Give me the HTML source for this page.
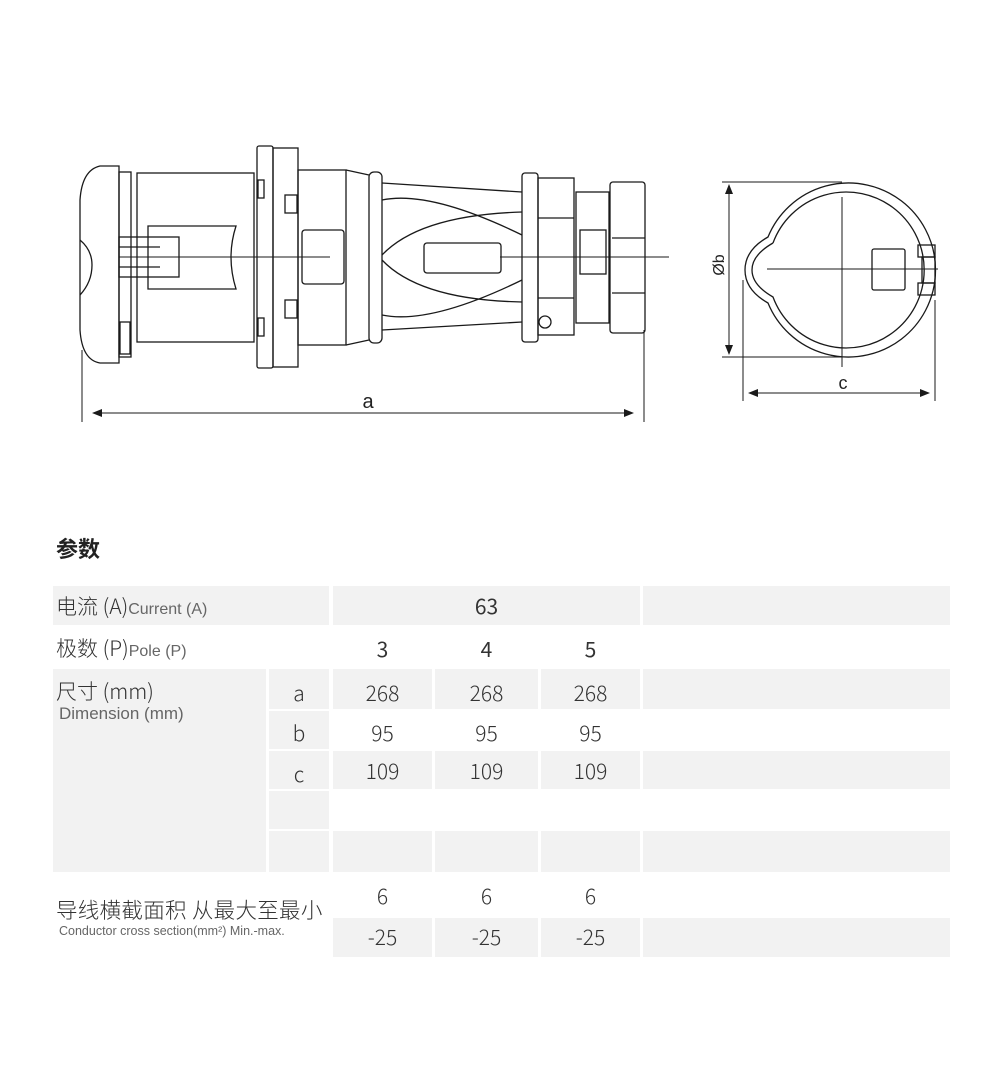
<!DOCTYPE html>
<html><head><meta charset="utf-8"><style>
body{margin:0;width:1001px;height:1081px;background:#fff;position:relative;overflow:hidden;font-family:"Liberation Sans","Noto Sans CJK SC",sans-serif;color:#333}
.g{position:absolute;background:#f2f2f2}
.t{position:absolute;white-space:nowrap;font-family:"Noto Sans CJK SC","Liberation Sans",sans-serif;font-weight:300}
.n{position:absolute;font-size:21px;text-align:center;font-family:"Noto Sans CJK SC",sans-serif;font-weight:300;color:#333}
.e{font-family:"Liberation Sans",sans-serif;font-size:16px;color:#666}
</style></head><body>
<svg width="1001" height="480" style="position:absolute;left:0;top:0" fill="none" stroke="#1a1a1a" stroke-width="1.3">
<path d="M119,166 L100,166 Q82,170 80,200 L80,330 Q82,360 100,363 L119,363 Z"/>
<path d="M80,240 Q92,250 92,265 Q92,282 80,295"/>
<rect x="119" y="172" width="12" height="185"/>
<rect x="120" y="322" width="10" height="32"/>
<rect x="137" y="173" width="117" height="169"/>
<path d="M148,226 L236,226 Q226,257 236,289 L148,289 Z"/>
<rect x="119" y="237" width="60" height="40"/>
<line x1="119" y1="247" x2="160" y2="247"/><line x1="119" y1="267" x2="160" y2="267"/>
<rect x="257" y="146" width="16" height="222" rx="2"/>
<rect x="273" y="148" width="25" height="219"/>
<rect x="258" y="180" width="6" height="18"/><rect x="258" y="318" width="6" height="18"/>
<rect x="285" y="195" width="12" height="18"/><rect x="285" y="300" width="12" height="18"/>
<rect x="298" y="170" width="48" height="175"/>
<rect x="302" y="230" width="42" height="54" rx="3"/>
<path d="M346,170 L369,175 M346,345 L369,340"/>
<rect x="369" y="172" width="13" height="171" rx="5"/>
<path d="M382,183 L522,192 M382,330 L522,322"/>
<path d="M382,200 Q430,190 522,235 M382,255 Q420,215 522,212 M382,260 Q420,300 522,302 M382,315 Q430,325 522,280"/>
<rect x="424" y="243" width="77" height="30" rx="3"/>
<rect x="522" y="173" width="16" height="169" rx="3"/>
<rect x="538" y="178" width="36" height="157"/>
<line x1="538" y1="218" x2="574" y2="218"/><line x1="538" y1="298" x2="574" y2="298"/>
<circle cx="545" cy="322" r="6"/>
<rect x="576" y="192" width="33" height="131"/>
<rect x="580" y="230" width="26" height="44"/>
<rect x="610" y="182" width="35" height="151" rx="3"/>
<line x1="612" y1="238" x2="645" y2="238"/><line x1="612" y1="293" x2="645" y2="293"/>
<line x1="119" y1="257" x2="330" y2="257" stroke-width="1"/>
<line x1="500" y1="257" x2="669" y2="257" stroke-width="1"/>
<g stroke-width="1"><line x1="82" y1="350" x2="82" y2="422"/><line x1="644" y1="330" x2="644" y2="422"/>
<line x1="95" y1="413" x2="631" y2="413"/></g>
<path d="M92,413 L102,409 L102,417 Z M634,413 L624,409 L624,417 Z" fill="#1a1a1a" stroke="none"/>
<text x="368" y="408" font-family="Liberation Sans" font-size="20" fill="#222" stroke="none" text-anchor="middle">a</text>
<path d="M768,237 A87,87 0 1 1 768,303 Q745,290 745,270 Q745,250 768,237 Z"/>
<path d="M773,243 A78,78 0 1 1 773,297 Q752,285 752,270 Q752,255 773,243"/>
<rect x="872" y="249" width="33" height="41" rx="2"/>
<rect x="918" y="245" width="17" height="12"/><rect x="918" y="283" width="17" height="12"/>
<rect x="922" y="257" width="13" height="26"/>
<g stroke-width="1">
<line x1="767" y1="269" x2="938" y2="269"/><line x1="842" y1="197" x2="842" y2="367"/>
<line x1="722" y1="182" x2="842" y2="182"/><line x1="722" y1="357" x2="842" y2="357"/>
<line x1="729" y1="190" x2="729" y2="349"/>
<line x1="743" y1="280" x2="743" y2="401"/><line x1="935" y1="300" x2="935" y2="401"/>
<line x1="756" y1="393" x2="922" y2="393"/></g>
<path d="M729,184 L725,194 L733,194 Z M729,355 L725,345 L733,345 Z M748,393 L758,389 L758,397 Z M930,393 L920,389 L920,397 Z" fill="#1a1a1a" stroke="none"/>
<text x="843" y="389" font-family="Liberation Sans" font-size="18" fill="#222" stroke="none" text-anchor="middle">c</text>
<text transform="translate(724,265) rotate(-90)" font-family="Liberation Sans" font-size="16" fill="#222" stroke="none" text-anchor="middle">Øb</text>
</svg>

<div class="t" style="left:56px;top:532px;font-size:22px;font-weight:700;color:#222">参数</div>

<div class="g" style="left:53px;top:586px;width:276px;height:39px"></div>
<div class="g" style="left:333px;top:586px;width:307px;height:39px"></div>
<div class="g" style="left:643px;top:586px;width:307px;height:39px"></div>

<div class="g" style="left:53px;top:669px;width:213px;height:203px"></div>
<div class="g" style="left:269px;top:669px;width:60px;height:40px"></div>
<div class="g" style="left:269px;top:711px;width:60px;height:38px"></div>
<div class="g" style="left:269px;top:751px;width:60px;height:38px"></div>
<div class="g" style="left:269px;top:791px;width:60px;height:38px"></div>
<div class="g" style="left:269px;top:831px;width:60px;height:41px"></div>

<div class="g" style="left:333px;top:669px;width:99px;height:40px"></div>
<div class="g" style="left:435px;top:669px;width:103px;height:40px"></div>
<div class="g" style="left:541px;top:669px;width:99px;height:40px"></div>
<div class="g" style="left:643px;top:669px;width:307px;height:40px"></div>

<div class="g" style="left:333px;top:751px;width:99px;height:38px"></div>
<div class="g" style="left:435px;top:751px;width:103px;height:38px"></div>
<div class="g" style="left:541px;top:751px;width:99px;height:38px"></div>
<div class="g" style="left:643px;top:751px;width:307px;height:38px"></div>

<div class="g" style="left:333px;top:831px;width:99px;height:41px"></div>
<div class="g" style="left:435px;top:831px;width:103px;height:41px"></div>
<div class="g" style="left:541px;top:831px;width:99px;height:41px"></div>
<div class="g" style="left:643px;top:831px;width:307px;height:41px"></div>

<div class="g" style="left:333px;top:918px;width:99px;height:39px"></div>
<div class="g" style="left:435px;top:918px;width:103px;height:39px"></div>
<div class="g" style="left:541px;top:918px;width:99px;height:39px"></div>
<div class="g" style="left:643px;top:918px;width:307px;height:39px"></div>

<div class="t" style="left:56px;top:591px;font-size:21px">电流 (A)<span class="e">Current (A)</span></div>
<div class="t" style="left:56px;top:633px;font-size:21px">极数 (P)<span class="e">Pole (P)</span></div>
<div class="t" style="left:56px;top:676px;font-size:21px">尺寸 (mm)</div>
<div class="t e" style="left:59px;top:704px;font-size:17px">Dimension (mm)</div>
<div class="t" style="left:56px;top:894px;font-size:21.5px;letter-spacing:0.3px">导线横截面积 从最大至最小</div>
<div class="t e" style="left:59px;top:924px;font-size:12.5px">Conductor cross section(mm²) Min.-max.</div>

<div class="n" style="left:269px;width:60px;top:678px">a</div>
<div class="n" style="left:269px;width:60px;top:718px">b</div>
<div class="n" style="left:269px;width:60px;top:759px">c</div>

<div class="n" style="left:333px;width:307px;top:591px;font-weight:400">63</div>
<div class="n" style="left:333px;width:99px;top:634px;font-weight:400">3</div>
<div class="n" style="left:435px;width:103px;top:634px;font-weight:400">4</div>
<div class="n" style="left:541px;width:99px;top:634px;font-weight:400">5</div>

<div class="n" style="left:333px;width:99px;top:678px">268</div>
<div class="n" style="left:435px;width:103px;top:678px">268</div>
<div class="n" style="left:541px;width:99px;top:678px">268</div>
<div class="n" style="left:333px;width:99px;top:718px">95</div>
<div class="n" style="left:435px;width:103px;top:718px">95</div>
<div class="n" style="left:541px;width:99px;top:718px">95</div>
<div class="n" style="left:333px;width:99px;top:756px">109</div>
<div class="n" style="left:435px;width:103px;top:756px">109</div>
<div class="n" style="left:541px;width:99px;top:756px">109</div>
<div class="n" style="left:333px;width:99px;top:881px">6</div>
<div class="n" style="left:435px;width:103px;top:881px">6</div>
<div class="n" style="left:541px;width:99px;top:881px">6</div>
<div class="n" style="left:333px;width:99px;top:922px">-25</div>
<div class="n" style="left:435px;width:103px;top:922px">-25</div>
<div class="n" style="left:541px;width:99px;top:922px">-25</div>
</body></html>
